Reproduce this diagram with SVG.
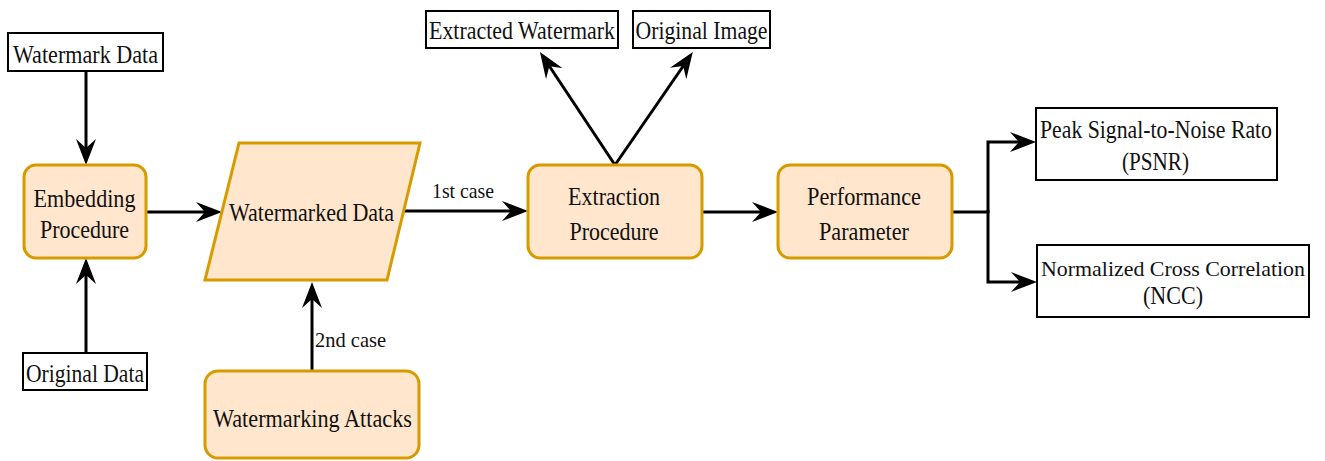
<svg xmlns="http://www.w3.org/2000/svg" width="1325" height="461" viewBox="0 0 1325 461">
  <style>
    .proc { fill: #FFE6CC; stroke: #D79B00; stroke-width: 3; }
    .io { fill: #FFFFFF; stroke: #000000; stroke-width: 2; }
    .lbl { font-family: "Liberation Serif", "Times New Roman", serif; font-size: 26px; fill: #111111; text-anchor: middle; }
    .small { font-size: 22px; }
    .edge { fill: none; stroke: #000000; stroke-width: 3; }
  </style>
  <defs>
    <marker id="arrow" markerUnits="userSpaceOnUse" markerWidth="26" markerHeight="20" viewBox="0 0 26 20" refX="14" refY="10" orient="auto">
      <path d="M26,10 L0,0 L9,10 L0,20 Z" fill="#000000"/>
    </marker>
  </defs>

  <rect width="1325" height="461" fill="#FFFFFF"/>

  <!-- connectors -->
  <g id="connectors">
    <path class="edge" d="M86,71 V153" marker-end="url(#arrow)"/>
    <path class="edge" d="M86,352 V270" marker-end="url(#arrow)"/>
    <path class="edge" d="M146,212 H210" marker-end="url(#arrow)"/>
    <path class="edge" d="M403,211 H516" marker-end="url(#arrow)"/>
    <path class="edge" d="M312,371 V294" marker-end="url(#arrow)"/>
    <path class="edge" d="M702,212 H766" marker-end="url(#arrow)"/>
    <path class="edge" d="M952,212 H988 V142 H1024" marker-end="url(#arrow)"/>
    <path class="edge" d="M988,210 V282 H1025" marker-end="url(#arrow)"/>
    <path class="edge" d="M615,165 L546.6,62" marker-end="url(#arrow)"/>
    <path class="edge" d="M615,165 L686,62" marker-end="url(#arrow)"/>
    <text class="lbl small" x="463" y="198" textLength="62" lengthAdjust="spacingAndGlyphs">1st case</text>
    <text class="lbl small" x="350.5" y="347" textLength="71" lengthAdjust="spacingAndGlyphs">2nd case</text>
  </g>

  <!-- inputs -->
  <g id="watermark-data">
    <rect class="io" x="8" y="33" width="155" height="38"/>
    <text class="lbl" x="85.5" y="63" textLength="145" lengthAdjust="spacingAndGlyphs">Watermark Data</text>
  </g>
  <g id="original-data">
    <rect class="io" x="23" y="353" width="124" height="37"/>
    <text class="lbl" x="85" y="382" textLength="118" lengthAdjust="spacingAndGlyphs">Original Data</text>
  </g>

  <!-- processing -->
  <g id="embedding">
    <rect class="proc" x="24" y="165" width="122" height="93" rx="12"/>
    <text class="lbl" x="84.5" y="207" textLength="102" lengthAdjust="spacingAndGlyphs">Embedding</text>
    <text class="lbl" x="84.5" y="238" textLength="89" lengthAdjust="spacingAndGlyphs">Procedure</text>
  </g>
  <g id="watermarked-data">
    <polygon class="proc" points="239,143 420,143 387,280 205,280"/>
    <text class="lbl" x="311.5" y="221" textLength="165" lengthAdjust="spacingAndGlyphs">Watermarked Data</text>
  </g>
  <g id="attacks">
    <rect class="proc" x="205" y="371" width="214" height="87" rx="13"/>
    <text class="lbl" x="312.5" y="427" textLength="199" lengthAdjust="spacingAndGlyphs">Watermarking Attacks</text>
  </g>
  <g id="extraction">
    <rect class="proc" x="528" y="165" width="174" height="93" rx="12"/>
    <text class="lbl" x="614" y="205" textLength="92" lengthAdjust="spacingAndGlyphs">Extraction</text>
    <text class="lbl" x="614" y="240" textLength="89" lengthAdjust="spacingAndGlyphs">Procedure</text>
  </g>
  <g id="performance">
    <rect class="proc" x="778" y="165" width="174" height="93" rx="12"/>
    <text class="lbl" x="864" y="205" textLength="114" lengthAdjust="spacingAndGlyphs">Performance</text>
    <text class="lbl" x="864" y="240" textLength="90" lengthAdjust="spacingAndGlyphs">Parameter</text>
  </g>

  <!-- outputs -->
  <g id="extracted-watermark">
    <rect class="io" x="426" y="11" width="192" height="37"/>
    <text class="lbl" x="522" y="39" textLength="186" lengthAdjust="spacingAndGlyphs">Extracted Watermark</text>
  </g>
  <g id="original-image">
    <rect class="io" x="633" y="11" width="137" height="37"/>
    <text class="lbl" x="701.5" y="39" textLength="132" lengthAdjust="spacingAndGlyphs">Original Image</text>
  </g>
  <g id="psnr">
    <rect class="io" x="1036" y="108" width="241" height="72"/>
    <text class="lbl" x="1156" y="138" textLength="232" lengthAdjust="spacingAndGlyphs">Peak Signal-to-Noise Rato</text>
    <text class="lbl" x="1155.5" y="170" textLength="67" lengthAdjust="spacingAndGlyphs">(PSNR)</text>
  </g>
  <g id="ncc">
    <rect class="io" x="1037" y="245" width="272" height="72"/>
    <text class="lbl" x="1173" y="276" style="font-size:22px" textLength="264" lengthAdjust="spacingAndGlyphs">Normalized Cross Correlation</text>
    <text class="lbl" x="1173" y="304" textLength="60" lengthAdjust="spacingAndGlyphs">(NCC)</text>
  </g>
</svg>
